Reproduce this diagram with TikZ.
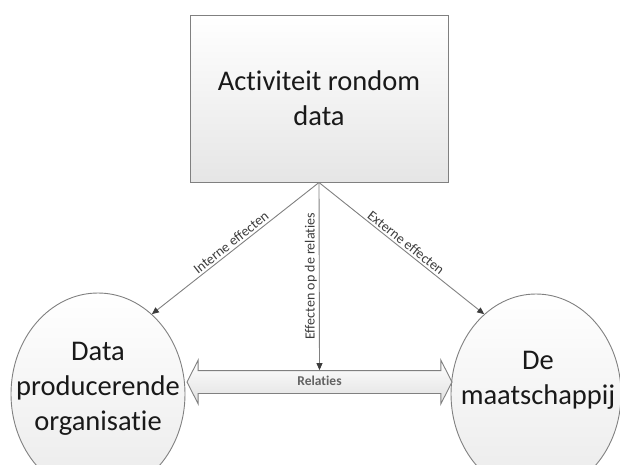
\documentclass[tikz,border=0pt]{standalone}
\usepackage{fontspec}
\setmainfont{Carlito}[Ligatures={NoCommon,NoRequired,NoContextual}]
\usetikzlibrary{arrows.meta,shapes.geometric,shapes.arrows}
\definecolor{rim}{RGB}{128,128,128}
\definecolor{ink}{RGB}{25,25,25}
\definecolor{labelink}{RGB}{60,60,60}
\tikzset{
  bigtext/.style={font=\fontsize{28.5}{35}\selectfont, text=ink, align=center},
  box/.style={draw=rim, line width=1pt, top color=white, bottom color=black!10, bigtext},
  party/.style={ellipse, draw=rim, line width=0.9pt, top color=white, bottom color=black!8, inner sep=0pt},
  effect/.style={draw=rim, line width=0.9pt, -{Triangle[length=7pt,width=6pt,color=labelink]}},
  tag/.style={font=\fontsize{14}{16}\selectfont, text=labelink, sloped, above, inner sep=2pt}
}
\begin{document}
\begin{tikzpicture}[x=1pt, y=-1pt]
\useasboundingbox (0,0) rectangle (620,464);
	\node[box, minimum width=258pt, minimum height=167pt] (act) at (319,98.5) {Activiteit rondom\\data};
	% the two parties
	\node[party, minimum width=174pt, minimum height=202pt] (org) at (98,394) {};
	\node[bigtext] (orgtext) at (98,389) {Data\\producerende\\organisatie};
	\node[party, minimum width=170pt, minimum height=200pt] (soc) at (536,394) {};
	\node[bigtext] (soctext) at (538,380) {De\\maatschappij};
	\node[double arrow, draw=rim, line width=0.9pt, top color=white, bottom color=black!12,
	      minimum height=265pt, double arrow head extend=10.5pt, double arrow tip angle=126,
	      inner xsep=0pt, inner ysep=6pt, text height=8pt, text depth=2pt,
	      font=\fontsize{13.5}{15}\selectfont\bfseries, text=labelink!80] (rel) at (319.5,382) {Relaties};
	\draw[effect] (act.south) -- node[tag] {Interne effecten} (org.56);
	\draw[effect] (act.south) -- node[tag] {Externe effecten} (soc.123);
	\draw[effect] (act.south) -- node[font=\fontsize{14}{16}\selectfont, text=labelink, rotate=90, anchor=south, inner sep=2pt] {Effecten op de relaties} (rel.north);
\end{tikzpicture}
\end{document}
